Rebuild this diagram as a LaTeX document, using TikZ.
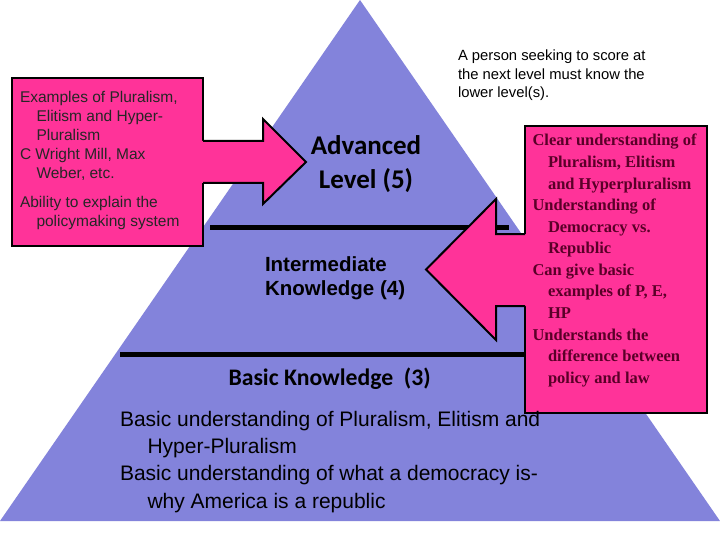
\documentclass[tikz,border=0pt]{standalone}
\usepackage{fontspec}
\newfontfamily\ArialF{Liberation Sans}
\newfontfamily\CalibriF{Carlito}
\newfontfamily\TimesF{Liberation Serif}
\definecolor{trifill}{RGB}{131,131,219}
\definecolor{pinkfill}{RGB}{255,51,153}
\definecolor{darkmaroon}{RGB}{90,0,40}
\newcommand\Blk[2]{\vtop{\baselineskip=#1\relax\lineskiplimit=-20pt #2}}
\newcommand\Ln[1]{\hbox{#1}}
\newcommand\In[2]{\hbox{\hskip#1\relax #2}}
\begin{document}
\begin{tikzpicture}[x=1pt,y=-1pt,
  txt/.style={inner sep=0pt, outer sep=0pt, anchor=base west},
  shapeln/.style={draw=black, line width=2pt, line join=miter},
  bar/.style={draw=black, line width=5pt}]
\useasboundingbox (0,0) rectangle (720,540);
\fill[white] (0,0) rectangle (720,540);
% pyramid
\fill[trifill] (360,0) -- (720,521) -- (0,521) -- cycle;
% level bars
\coordinate (b1l) at (210,228); \coordinate (b1r) at (509,228);
\coordinate (b2l) at (120,354); \coordinate (b2r) at (526,354);
\draw[bar] (b1l) -- (b1r);
\draw[bar] (b2l) -- (b2r);
% left box and arrow
\draw[shapeln, fill=pinkfill] (12,78) rectangle (203,246);
\fill[pinkfill] (201,141) -- (263,141) -- (263,119) -- (306,162) -- (263,204) -- (263,183) -- (201,183) -- cycle;
\draw[shapeln] (203,141) -- (263,141) -- (263,119) -- (306,162) -- (263,204) -- (263,183) -- (203,183);
% right box and arrow
\draw[shapeln, fill=pinkfill] (525,126) rectangle (707,413);
\fill[pinkfill] (527,234) -- (496,234) -- (496,199) -- (426,269.5) -- (496,340) -- (496,306) -- (527,306) -- cycle;
\draw[shapeln] (525,234) -- (496,234) -- (496,199) -- (426,269.5) -- (496,340) -- (496,306) -- (525,306);
% texts
\node[txt, text=black!85] (lefttxt) at (20,102.7) {\ArialF\fontsize{15.5}{19}\selectfont
  \Blk{19pt}{\Ln{Examples of Pluralism,}\In{16.5pt}{Elitism and Hyper-}\In{16.5pt}{Pluralism}\Ln{C Wright Mill, Max}\In{16.5pt}{Weber, etc.}\vskip9.4pt\Ln{Ability to explain the}\In{16.5pt}{policymaking system}}};
\node[txt] (note) at (458,61) {\ArialF\fontsize{14.8}{18.2}\selectfont
  \Blk{18.2pt}{\Ln{A person seeking to score at}\Ln{the next level must know the}\Ln{lower level(s).}}};
\node[txt, text=darkmaroon] (righttxt) at (532.5,146) {\TimesF\bfseries\fontsize{16.5}{21.6}\selectfont
  \Blk{21.57pt}{\Ln{Clear understanding of}\In{15.5pt}{Pluralism, Elitism}\In{15.5pt}{and Hyperpluralism}\Ln{Understanding of}\In{15.5pt}{Democracy vs.}\In{15.5pt}{Republic}\Ln{Can give basic}\In{15.5pt}{examples of P, E,}\In{15.5pt}{HP}\Ln{Understands the}\In{15.5pt}{difference between}\In{15.5pt}{policy and law}}};
\node[inner sep=0pt, anchor=base] (adv1) at (366,155) {\CalibriF\bfseries\fontsize{27}{33}\selectfont Advanced};
\node[inner sep=0pt, anchor=base] (adv2) at (366,188.3) {\CalibriF\bfseries\fontsize{27}{33}\selectfont Level (5)};
\node[txt] (inter) at (265,271.7) {\ArialF\bfseries\fontsize{20.5}{24.3}\selectfont
  \Blk{24.3pt}{\Ln{Intermediate}\Ln{Knowledge (4)}}};
\node[txt] (basic) at (228.5,385) {\CalibriF\bfseries\fontsize{23.7}{28}\selectfont Basic Knowledge\ \ (3)};
\node[txt] (bottomtxt) at (120,426) {\ArialF\fontsize{21}{27.4}\selectfont
  \Blk{27.4pt}{\Ln{Basic understanding of Pluralism, Elitism and}\In{27.5pt}{Hyper-Pluralism}\Ln{Basic understanding of what a democracy is-}\In{27.5pt}{why America is a republic}}};
\end{tikzpicture}
\end{document}
